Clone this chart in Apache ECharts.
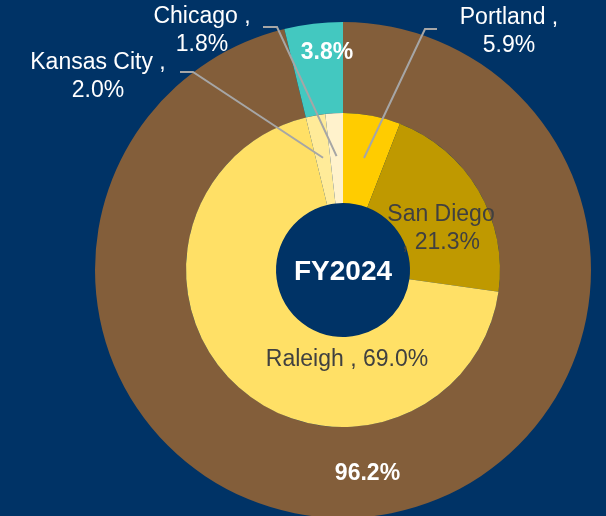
<!DOCTYPE html>
<html>
<head>
<meta charset="utf-8">
<script src="https://cdn.jsdelivr.net/npm/echarts@6/dist/echarts.min.js"></script>
<style>
  html, body { margin: 0; padding: 0; background: #003366; }
  #chart { width: 606px; height: 516px; }
</style>
</head>
<body>
<div id="chart"></div>
<script>
// inner pie: share by city
const cities = ['Portland', 'San Diego', 'Raleigh', 'Kansas City', 'Chicago']
const cityShare = [5.9, 21.3, 69.0, 2.0, 1.8]
const cityColors = ['#FFCC00', '#BF9900', '#FFE066', '#FFEB99', '#FFF2CC']

// outer ring
const ringNames = ['Share', 'Other']
const ringShare = [96.2, 3.8]
const ringColors = ['#835E3A', '#43C8C0']

const yearLabel = 'FY2024'

const cx = 343
const cy = 270
const font = '"Liberation Sans", Arial, sans-serif'

// where the city labels sit (Excel-ish manual placement)
const labelSpots = {
  'Portland': { x: 509, y: 32, bend: [425, 29], tip: [437, 29] },
  'Kansas City': { x: 98, y: 77, bend: [193, 72], tip: [180, 72] },
  'Chicago': { x: 202, y: 31, bend: [277, 27], tip: [263, 27] },
  'San Diego': { x: 441, y: 229 },
  'Raleigh': { x: 347, y: 360 }
}

const total = cityShare.reduce((a, b) => a + b, 0)
function sliceStart(i, r) {
  let before = 0
  for (let k = 0; k < i; k++) before += cityShare[k]
  const mid = (before + cityShare[i] / 2) / total * Math.PI * 2
  return [cx + r * Math.sin(mid), cy - r * Math.cos(mid)]
}

function cityText(name, v) {
  const pct = v.toFixed(1) + '%'
  if (name === 'San Diego') return name + '\n, ' + pct
  if (name === 'Raleigh') return name + ' , ' + pct
  return name + ' ,\n' + pct
}

const cityData = cities.map((name, i) => {
  const inside = name === 'San Diego' || name === 'Raleigh'
  return {
    name: name,
    value: cityShare[i],
    itemStyle: { color: cityColors[i] },
    label: {
      position: inside ? 'inside' : 'outside',
      color: inside ? '#404040' : '#FFFFFF',
      formatter: cityText(name, cityShare[i])
    }
  }
})

const ringData = ringNames.map((name, i) => ({
  name: name,
  value: ringShare[i],
  itemStyle: { color: ringColors[i] }
}))

// leader lines drawn on top of both rings
const leaderLines = cities
  .map((name, i) => ({ name, i, s: labelSpots[name] }))
  .filter(d => d.s.bend)
  .map(d => ({
    type: 'polyline',
    z: 100,
    silent: true,
    shape: { points: [sliceStart(d.i, 114), d.s.bend, d.s.tip] },
    style: { stroke: '#A6A6A6', lineWidth: 2, fill: null }
  }))

const chart = echarts.init(document.getElementById('chart'))
chart.setOption({
  backgroundColor: '#003366',
  animation: false,
  graphic: leaderLines,
  series: [
    {
      type: 'pie',
      center: [cx, cy],
      radius: [157, 248],
      startAngle: 90,
      silent: true,
      data: ringData,
      label: {
        position: 'inside',
        color: '#FFFFFF',
        fontFamily: font,
        fontSize: 23,
        fontWeight: 'bold',
        formatter: p => p.value.toFixed(1) + '%'
      },
      labelLine: { show: false },
      labelLayout: function (p) {
        if (p.dataIndex === 1) {
          return { x: 327, y: 53, align: 'center', verticalAlign: 'middle' }
        }
      }
    },
    {
      type: 'pie',
      z: 3,
      center: [cx, cy],
      radius: [67, 157],
      startAngle: 90,
      silent: true,
      avoidLabelOverlap: false,
      data: cityData,
      label: {
        fontFamily: font,
        fontSize: 23,
        lineHeight: 28,
        align: 'center'
      },
      labelLine: { show: false },
      labelLayout: function (p) {
        const s = labelSpots[cities[p.dataIndex]]
        return { x: s.x, y: s.y, align: 'center', verticalAlign: 'middle' }
      }
    },
    {
      type: 'pie',
      z: 1,
      center: [cx, cy],
      radius: [0, 67],
      silent: true,
      data: [{ name: yearLabel, value: 1, itemStyle: { color: '#003366' } }],
      label: {
        position: 'center',
        color: '#FFFFFF',
        fontFamily: font,
        fontSize: 28,
        fontWeight: 'bold',
        formatter: '{b}',
        offset: [0, 2]
      },
      labelLine: { show: false }
    }
  ]
})
</script>
</body>
</html>
